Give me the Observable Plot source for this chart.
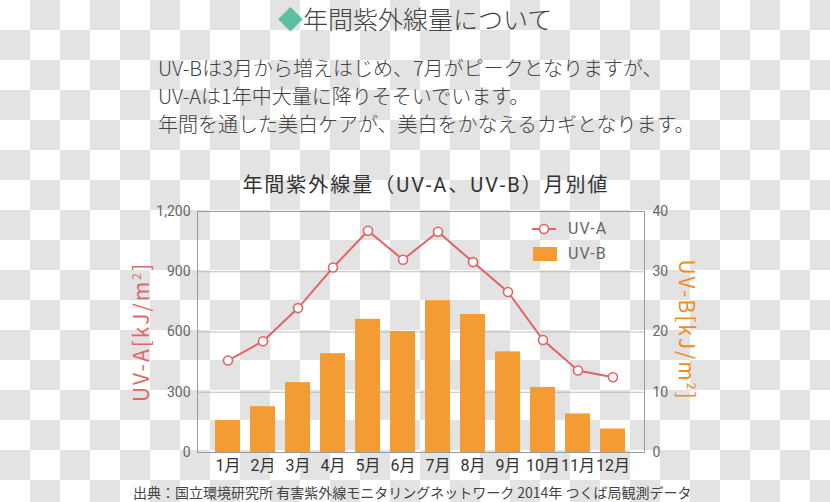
<!DOCTYPE html>
<html><head><meta charset="utf-8">
<script src="https://cdn.jsdelivr.net/npm/d3@7"></script>
<script src="https://cdn.jsdelivr.net/npm/@observablehq/plot@0.6"></script>
<style>
html,body{margin:0;padding:0;}
body{width:830px;height:502px;position:relative;overflow:hidden;
 background:repeating-conic-gradient(#e3e3e3 0 25%, #ffffff 0 50%) 0 0/60px 60px;
 font-family:"Noto Sans CJK JP","Noto Sans",sans-serif;color:#444;}
.abs{position:absolute;white-space:nowrap;}
#title{left:0;width:830px;top:2px;text-align:center;font-size:25px;font-weight:300;line-height:32px;color:#444;}
#title .dia{color:#5bbfa0;}
#para{left:158px;top:54px;font-size:20px;line-height:28px;font-weight:300;color:#444;}
#ctitle{left:6px;width:840px;top:171px;text-align:center;font-size:20px;line-height:28px;color:#333;letter-spacing:2px;font-family:Roboto,"Noto Sans CJK JP",sans-serif;}
#chart{left:0;top:200px;}
#labA{left:140px;top:332px;transform:translate(-50%,-50%) rotate(-90deg);font-size:21px;color:#e06868;letter-spacing:2px;}
#labB{left:688px;top:330px;transform:translate(-50%,-50%) rotate(90deg);font-size:21px;color:#f08c1c;letter-spacing:2px;}
#legend{left:531px;top:216px;font-size:16px;color:#666;line-height:25px;letter-spacing:1px;font-family:Roboto,"Noto Sans CJK JP",sans-serif;}
#legend div{display:flex;align-items:center;}
#legend svg{margin-right:11px;}
#caption{left:133px;top:482px;font-size:14px;line-height:20px;color:#444;}
</style></head>
<body>
<div id="title" class="abs"><span class="dia">◆</span>年間紫外線量について</div>
<div id="para" class="abs">UV-Bは3月から増えはじめ、7月がピークとなりますが、<br>UV-Aは1年中大量に降りそそいでいます。<br>年間を通した美白ケアが、美白をかなえるカギとなります。</div>
<div id="ctitle" class="abs">年間紫外線量（UV-A、UV-B）月別値</div>
<div id="chart" class="abs"></div>
<div id="labA" class="abs">UV-A[kJ/m<sup style="font-size:12px">2</sup>]</div>
<div id="labB" class="abs">UV-B[kJ/m<sup style="font-size:12px">2</sup>]</div>
<div id="legend" class="abs">
 <div><svg width="26" height="12"><line x1="1" y1="6" x2="25" y2="6" stroke="#e06464" stroke-width="2"/><circle cx="13" cy="6" r="4.5" fill="#fff" stroke="#e06464" stroke-width="1.6"/></svg>UV-A</div>
 <div><svg width="26" height="14"><rect x="2" y="0" width="24" height="14" fill="#f39c34"/></svg>UV-B</div>
</div>
<div id="caption" class="abs">出典：国立環境研究所 有害紫外線モニタリングネットワーク 2014年 つくば局観測データ</div>
<script>
const months = ["1月","2月","3月","4月","5月","6月","7月","8月","9月","10月","11月","12月"];
const uva = [458, 554, 719, 921, 1104, 960, 1099, 948, 799, 560, 408, 375];
const uvb = [5.3, 7.6, 11.6, 16.4, 22.1, 20.1, 25.2, 22.9, 16.7, 10.8, 6.4, 3.9];
const ticksA = [0, 300, 600, 900, 1200];
const ticksB = [0, 10, 20, 30, 40];
const ratio = 1200 / 40;

const data = months.map((m, i) => ({month: m, uva: uva[i], uvb: uvb[i]}));

const chart = Plot.plot({
  width: 830, height: 280,
  marginLeft: 197, marginRight: 186, marginTop: 11, marginBottom: 28,
  style: {background: "transparent", fontFamily: "Roboto, 'Noto Sans CJK JP', sans-serif"},
  x: {domain: months, paddingInner: 0.29, paddingOuter: 0, insetLeft: 17, insetRight: 19, label: null},
  y: {domain: [0, 1200], label: null},
  marks: [
    Plot.ruleY(ticksA, {stroke: "#bdbdbd", strokeWidth: 1}),
    Plot.barY(data, {x: "month", y: d => d.uvb * ratio, fill: "#f39c34"}),
    Plot.line(data, {x: "month", y: "uva", stroke: "#e06464", strokeWidth: 2}),
    Plot.dot(data, {x: "month", y: "uva", r: 4.5, fill: "#fff", stroke: "#e06464", strokeWidth: 1.6}),
    Plot.frame({stroke: "#999", strokeWidth: 1}),
    Plot.axisY(ticksA, {anchor: "left", tickSize: 0, tickPadding: 7, tickFormat: d3.format(","), fontSize: 14, fill: "#666", label: null}),
    Plot.axisY(ticksB.map(v => v * ratio), {anchor: "right", tickSize: 0, tickPadding: 8, tickFormat: d => d / ratio, fontSize: 14, fill: "#666", label: null}),
    Plot.axisX({tickSize: 0, tickPadding: 7, fontSize: 16, fill: "#333", label: null})
  ]
});
document.getElementById("chart").appendChild(chart);
</script>
</body></html>
